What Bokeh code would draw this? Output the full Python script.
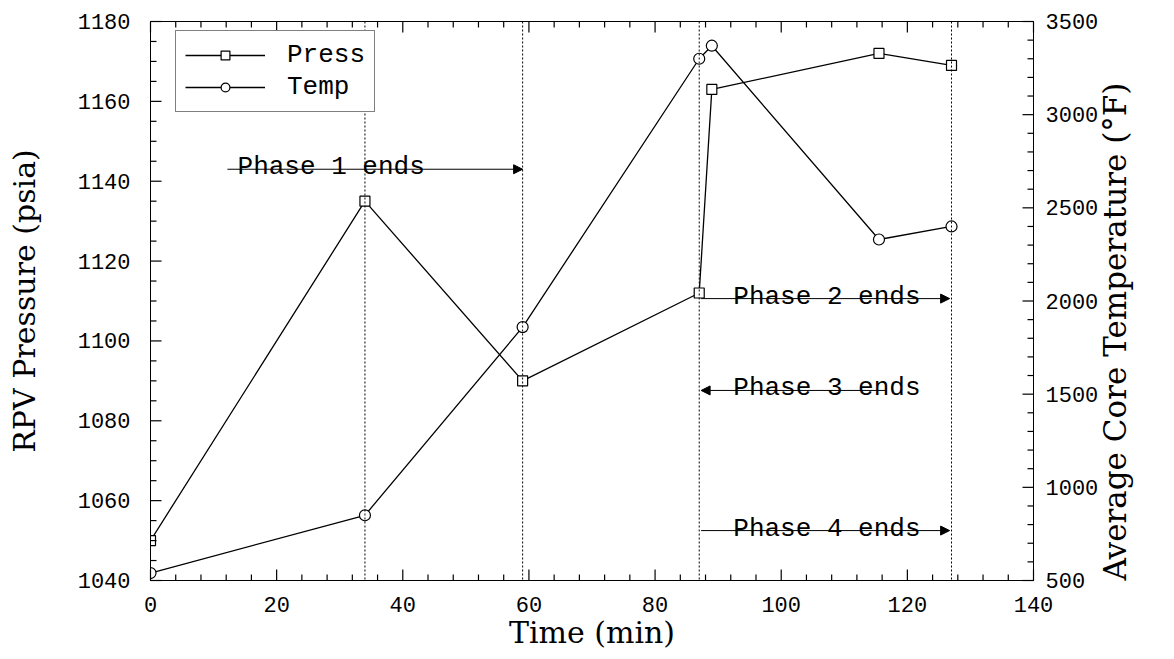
import math
import numpy as np
from bokeh.plotting import figure
from bokeh.models import (Range1d, LinearAxis, Span, Arrow, NormalHead, Label,
                          Legend, LegendItem, SingleIntervalTicker, ColumnDataSource)
from bokeh.embed import file_html
from bokeh.resources import INLINE

# ---- data ----
time_min = [0, 34, 59, 87, 89, 115.5, 127]
press_psia = [1050, 1135, 1090, 1112, 1163, 1172, 1169]
temp_F = [540, 850, 1860, 3300, 3370, 2330, 2400]

phase_end_times = [34, 59, 87, 127]
phase_labels = ["Phase 1 ends", "Phase 2 ends", "Phase 3 ends", "Phase 4 ends"]
arrow_tail = [12.2, 87.3, 116.7, 87.3]
arrow_head = [59, 126.7, 87.3, 126.7]
arrow_level = [1143, 1110.6, 1087.6, 1052.5]
label_x = [13.8, 92.4, 92.4, 92.4]

X0, X1 = 0, 140
P0, P1 = 1040, 1180
T0, T1 = 500, 3500
FW, FH = 883, 559

MONO = "Liberation Mono"
SERIF = "DejaVu Serif"

p = figure(frame_width=FW, frame_height=FH,
           x_range=Range1d(X0, X1), y_range=Range1d(P0, P1),
           output_backend="svg", toolbar_location=None,
           min_border_left=150, min_border_top=21, min_border_right=133, min_border_bottom=71,
           background_fill_color="white", border_fill_color="white",
           x_axis_label="Time (min)", y_axis_label="RPV Pressure (psia)")
p.extra_y_ranges = {"temp": Range1d(T0, T1)}
p.xgrid.visible = False
p.ygrid.visible = False
p.outline_line_color = "black"
p.outline_line_width = 1


def style(ax):
    ax.axis_line_color = "black"
    ax.axis_line_width = 1
    ax.major_tick_in = 0
    ax.major_tick_out = 0
    ax.minor_tick_in = 0
    ax.minor_tick_out = 0
    ax.major_label_text_font = MONO
    ax.major_label_text_font_size = "22px"
    ax.major_label_text_color = "black"
    ax.axis_label_text_font = SERIF
    ax.axis_label_text_font_size = "30px"
    ax.axis_label_text_font_style = "normal"
    ax.axis_label_text_color = "black"


xb = p.xaxis[0]
xb.ticker = SingleIntervalTicker(interval=20)
style(xb)
xb.major_label_standoff = 16
xb.axis_label_standoff = 0

yl = p.yaxis[0]
yl.ticker = SingleIntervalTicker(interval=20)
style(yl)
yl.major_label_standoff = 20
yl.axis_label_standoff = 33

yr = LinearAxis(y_range_name="temp", ticker=SingleIntervalTicker(interval=500),
                axis_label="Average Core Temperature (°F)")
style(yr)
yr.major_label_standoff = 12
yr.axis_label_standoff = 14
yr.axis_label_text_font_size = "31px"
try:
    yr.axis_label_orientation = math.pi / 2
    yr.axis_label_align = "start"
except Exception:
    pass
p.add_layout(yr, "right")

# ---- inward tick marks as thin pixel-sized bars, built from the tick intervals ----
px_x = (X1 - X0) / FW
px_p = (P1 - P0) / FH
MAJ, MIN = 11, 6

bx, by, bw, bh = [], [], [], []
for k, t in enumerate(np.arange(X0, X1 + 1e-9, 4.0)):
    L = MAJ if k % 5 == 0 else MIN
    for base, sgn in ((P0, 1), (P1, -1)):
        bx.append(float(t)); by.append(base + sgn * L * px_p / 2)
        bw.append(1.2); bh.append(L)
for k, v in enumerate(np.arange(P0, P1 + 1e-9, 5.0)):
    L = MAJ if k % 4 == 0 else MIN
    bx.append(X0 + L * px_x / 2); by.append(float(v)); bw.append(L); bh.append(1.2)
p.rect("x", "y", "w", "h", source=ColumnDataSource(dict(x=bx, y=by, w=bw, h=bh)),
       width_units="screen", height_units="screen",
       fill_color="black", line_color=None, level="overlay")

rx, ry, rw, rh = [], [], [], []
for k, v in enumerate(np.arange(T0, T1 + 1e-9, 100.0)):
    L = MAJ if k % 5 == 0 else MIN
    rx.append(X1 - L * px_x / 2); ry.append(float(v)); rw.append(L); rh.append(1.2)
p.rect("x", "y", "w", "h", source=ColumnDataSource(dict(x=rx, y=ry, w=rw, h=rh)),
       y_range_name="temp", width_units="screen", height_units="screen",
       fill_color="black", line_color=None, level="overlay")

# phase boundaries
for t in phase_end_times:
    p.add_layout(Span(location=t, dimension="height", line_color="black",
                      line_width=1, line_dash="2 2"))

# arrows + labels
for lab, tail, head, lev, lx in zip(phase_labels, arrow_tail, arrow_head, arrow_level, label_x):
    p.add_layout(Arrow(x_start=tail, y_start=lev, x_end=head, y_end=lev,
                       line_color="black", line_width=1,
                       end=NormalHead(size=9, fill_color="black", line_color="black")))
    p.add_layout(Label(x=lx, y=lev, text=lab, text_font=MONO, text_font_size="26px",
                       text_color="black", text_baseline="alphabetic", y_offset=2))

# series
pl = p.line(time_min, press_psia, line_color="black", line_width=1.3)
ps = p.scatter(time_min, press_psia, marker="square", size=10, fill_color="white",
               line_color="black", line_width=1.2)
tl = p.line(time_min, temp_F, y_range_name="temp", line_color="black", line_width=1.3)
ts = p.scatter(time_min, temp_F, y_range_name="temp", marker="circle", size=11,
               fill_color="white", line_color="black", line_width=1.2)

legend = Legend(items=[LegendItem(label="Press", renderers=[pl, ps]),
                       LegendItem(label="Temp", renderers=[tl, ts])],
                location=(25, 468))
legend.label_text_font = MONO
legend.label_text_font_size = "26px"
legend.label_text_color = "black"
legend.glyph_width = 80
legend.glyph_height = 22
legend.label_height = 22
legend.label_standoff = 22
legend.spacing = 2
legend.padding = 9
legend.margin = 0
legend.border_line_color = "black"
legend.border_line_width = 1
legend.background_fill_color = "white"
legend.background_fill_alpha = 1
p.add_layout(legend, "center")

open("out.html", "w").write(file_html(p, INLINE))
